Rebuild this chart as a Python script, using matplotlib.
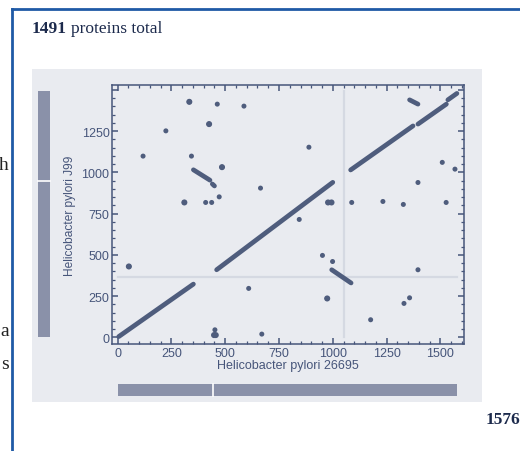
import matplotlib
matplotlib.use('Agg')
import matplotlib.pyplot as plt
from matplotlib.patches import Rectangle
from matplotlib.lines import Line2D
from matplotlib.ticker import MultipleLocator, FuncFormatter

# genome sizes (proteins)
n_x = 1576
n_y = 1491
x_break = 442
y_break = 949
cross_x = 1051
cross_y = 364

# syntenic runs (start x, start y, end x, end y)
run_x0 = [5, 460, 1083, 1396, 1535, 995, 352, 440, 1357]
run_y0 = [5, 410, 1015, 1293, 1440, 410, 1016, 930, 1440]
run_x1 = [352, 1000, 1373, 1528, 1577, 1085, 429, 450, 1396]
run_y1 = [323, 940, 1282, 1414, 1479, 330, 953, 918, 1414]

# isolated hits
pt_x = [333, 463, 587, 224, 425, 118, 343, 485, 664, 310, 409, 437, 472,
        889, 985, 844, 952, 1088, 1233, 1328, 1396, 1509, 1568, 1527,
        52, 609, 452, 452, 670, 999, 974, 1176, 1331, 1357, 1396]
pt_y = [1428, 1414, 1402, 1252, 1293, 1099, 1099, 1032, 905, 818, 818, 818, 852,
        1153, 818, 715, 497, 818, 824, 806, 939, 1061, 1020, 818,
        430, 297, 46, 14, 20, 460, 236, 107, 206, 240, 410]
# hits drawn a bit heavier (small clusters)
blob_x = [333, 425, 485, 310, 978, 994, 52, 448, 456, 974]
blob_y = [1428, 1293, 1032, 818, 818, 818, 430, 14, 14, 236]

W, H = 520, 452
navy = '#1c2a4c'
dot = '#4f5d7d'
panel = '#e9ebf0'
bar = '#8a91a9'
axc = '#46557a'

fig = plt.figure(figsize=(W / 100, H / 100), dpi=100)
fig.patch.set_facecolor('white')


def fx(px):
    return px / W


def fy(py):
    return 1 - py / H


# blue frame
fig.add_artist(Line2D([fx(12), 1], [fy(10), fy(10)], color='#1f5aa6', lw=2))
fig.add_artist(Line2D([fx(12), fx(12)], [fy(10), 0], color='#1f5aa6', lw=2))

# grey panel
fig.add_artist(Rectangle((fx(32), fy(403)), fx(482) - fx(32), fy(70) - fy(403),
                         facecolor=panel, edgecolor='none', zorder=0))

fig.text(fx(32), fy(33), '1491', fontsize=12.5, fontweight='bold', family='Liberation Serif',
         color=navy, va='baseline')
fig.text(fx(71), fy(33), 'proteins total', fontsize=12.5, family='Liberation Serif',
         color=navy, va='baseline')
fig.text(fx(486), fy(424), '1576', fontsize=12.5, fontweight='bold', family='Liberation Serif',
         color=navy, va='baseline')
for ch, py in zip(['h', 'a', 's'], [170, 336, 369]):
    fig.text(fx(9), fy(py), ch, fontsize=14, family='Liberation Serif', color='#222222',
             ha='right', va='baseline')

ax = fig.add_axes([fx(112.3), fy(345), fx(464) - fx(112.3), fy(86) - fy(345)])
ax.set_facecolor(panel)
ax.set_xlim(-25, 1610)
ax.set_ylim(-40, 1530)

ax.plot([cross_x, cross_x], [0, n_y], color='#d5d9e2', lw=1.6, zorder=1)
ax.plot([0, n_x], [cross_y, cross_y], color='#d5d9e2', lw=1.6, zorder=1)

for x0, y0, x1, y1 in zip(run_x0, run_y0, run_x1, run_y1):
    ax.plot([x0, x1], [y0, y1], color=dot, lw=3.4, solid_capstyle='round', zorder=3)
ax.scatter(pt_x, pt_y, s=13, color=dot, edgecolors='none', zorder=3)
ax.scatter(blob_x, blob_y, s=19, color=dot, edgecolors='none', zorder=3)

# genome bars
tb = ax.get_xaxis_transform()
ax.add_patch(Rectangle((0, -0.2), n_x, 0.045, transform=tb, facecolor=bar,
                       edgecolor='none', clip_on=False))
ax.plot([x_break, x_break], [-0.2, -0.155], transform=tb, color='white', lw=1.2, clip_on=False)
tl = ax.get_yaxis_transform()
ax.add_patch(Rectangle((-0.212, 0), 0.035, n_y, transform=tl, facecolor=bar,
                       edgecolor='none', clip_on=False))
ax.plot([-0.212, -0.177], [y_break, y_break], transform=tl, color='white', lw=1.2, clip_on=False)

for s in ax.spines.values():
    s.set_color(axc)
    s.set_linewidth(1.1)
ax.xaxis.set_major_locator(MultipleLocator(250))
ax.yaxis.set_major_locator(MultipleLocator(250))
ax.xaxis.set_minor_locator(MultipleLocator(50))
ax.yaxis.set_minor_locator(MultipleLocator(50))
# the top y tick carries no label in the original
ax.yaxis.set_major_formatter(FuncFormatter(lambda v, p: '' if v > n_y else '%d' % v))
ax.tick_params(which='both', direction='in', top=True, right=True, color=axc,
               labelcolor=axc, labelsize=9)
ax.tick_params(which='major', length=4, width=1.1, pad=2)
ax.tick_params(which='minor', length=2.2, width=0.9)
for lab in ax.get_xticklabels() + ax.get_yticklabels():
    lab.set_family('Liberation Sans')

ax.set_xlabel('Helicobacter pylori 26695', fontsize=9, color=axc, family='Liberation Sans',
              labelpad=0)
ax.set_ylabel('Helicobacter pylori J99', fontsize=8.6, color=axc, family='Liberation Sans',
              labelpad=4)

fig.savefig('out.png', dpi=100)
